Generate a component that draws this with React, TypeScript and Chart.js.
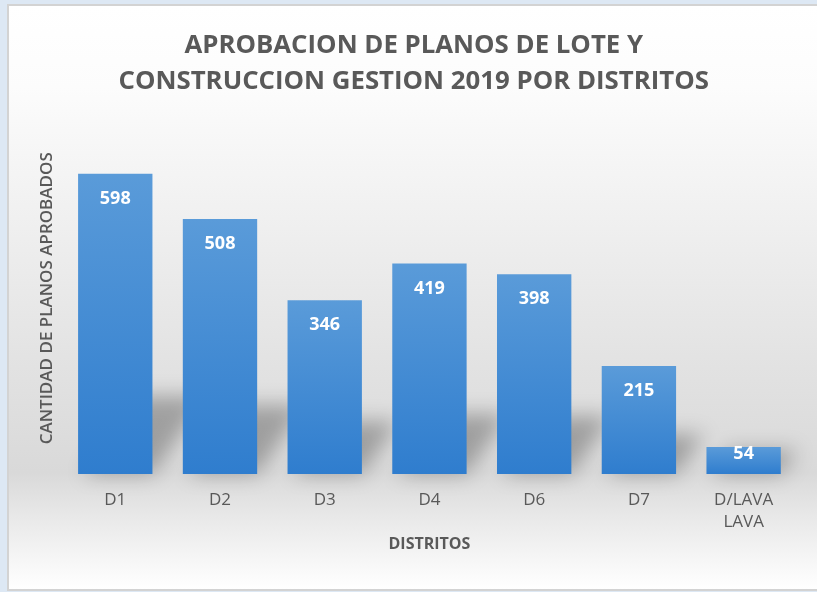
import React, { useEffect, useRef } from "react";
import { Chart, registerables } from "chart.js";

Chart.register(...registerables);

// ---- data ----
const categories: (string | string[])[] = ["D1", "D2", "D3", "D4", "D6", "D7", ["D/LAVA", "LAVA"]];
const values: number[] = [598, 508, 346, 419, 398, 215, 54];
const titleLines: string[] = ["APROBACION DE PLANOS DE LOTE Y", "CONSTRUCCION GESTION 2019 POR DISTRITOS"];
const yAxisTitle = "CANTIDAD DE PLANOS APROBADOS";
const xAxisTitle = "DISTRITOS";
const yMin = 0;
const yMax = 700;

const FONT = "'Open Sans', 'Noto Sans', sans-serif";
const TEXT_GRAY = "#595959";

const shadowPlugin = {
  id: "barShadow",
  beforeDatasetsDraw(chart: any) {
    const meta = chart.getDatasetMeta(0);
    const c = chart.ctx as CanvasRenderingContext2D;
    c.save();
    c.filter = "blur(10px)";
    c.fillStyle = "rgba(0,0,0,0.28)";
    meta.data.forEach((bar: any) => {
      const { x, y, base, width } = bar.getProps(["x", "y", "base", "width"], true);
      const h = base - y;
      const sh = Math.min(h, 18 + 0.2 * h);
      const dx = sh * 0.7;
      c.beginPath();
      c.moveTo(x - width / 2 + 6, base);
      c.lineTo(x + width / 2, base);
      c.lineTo(x + width / 2 + dx, base - sh);
      c.lineTo(x - width / 2 + dx + 6, base - sh);
      c.closePath();
      c.fill();
    });
    c.restore();
  },
};

const labelPlugin = {
  id: "barLabels",
  afterDatasetsDraw(chart: any) {
    const meta = chart.getDatasetMeta(0);
    const c = chart.ctx as CanvasRenderingContext2D;
    c.save();
    c.font = `bold 18px ${FONT}`;
    c.fillStyle = "#ffffff";
    c.textAlign = "center";
    c.textBaseline = "middle";
    meta.data.forEach((bar: any, i: number) => {
      const { x, y, base } = bar.getProps(["x", "y", "base"], true);
      const h = base - y;
      const ly = h < 50 ? y + 7 : y + 25;
      c.fillText(String(values[i]), x, ly);
    });
    c.restore();
  },
};

export default function App() {
  const ref = useRef<HTMLCanvasElement | null>(null);

  useEffect(() => {
    if (!ref.current) return;
    const chart = new Chart(ref.current, {
      type: "bar",
      data: {
        labels: categories as any,
        datasets: [
          {
            data: values,
            borderWidth: 0,
            categoryPercentage: 1,
            barPercentage: 0.71,
            backgroundColor: (ctx: any) => {
              const ch = ctx.chart;
              if (!ch.chartArea || ctx.type !== "data") return "#4a8fd6";
              const ys = ch.scales.y;
              const top = ys.getPixelForValue(ctx.raw);
              const bottom = ys.getPixelForValue(0);
              const g = ch.ctx.createLinearGradient(0, top, 0, bottom);
              g.addColorStop(0, "#5a9bd9");
              g.addColorStop(1, "#2f7dce");
              return g;
            },
          },
        ],
      },
      options: {
        responsive: false,
        animation: false,
        devicePixelRatio: 1,
        layout: { padding: { top: 0, left: 31.5, right: 21, bottom: 33.6 } },
        plugins: {
          legend: { display: false },
          tooltip: { enabled: false },
          title: {
            display: true,
            text: titleLines,
            color: TEXT_GRAY,
            font: { family: FONT, size: 25.8, weight: "bold", lineHeight: "36.5px" },
            padding: { top: 27, bottom: 22.5 },
          },
        },
        scales: {
          x: {
            grid: { display: false, drawTicks: false },
            border: { display: false },
            ticks: {
              color: TEXT_GRAY,
              font: { family: FONT, size: 17, lineHeight: 1.3 },
              padding: 15,
              maxRotation: 0,
              autoSkip: false,
            },
            title: {
              display: true,
              text: xAxisTitle,
              color: TEXT_GRAY,
              font: { family: FONT, size: 16, weight: "bold", lineHeight: 1.2 },
              padding: { top: -13, bottom: 4 },
            },
          },
          y: {
            min: yMin,
            max: yMax,
            grid: { display: false, drawTicks: false },
            border: { display: false },
            ticks: { display: false },
            title: {
              display: true,
              text: yAxisTitle,
              color: TEXT_GRAY,
              font: { family: FONT, size: 17, weight: "600", lineHeight: 1.2 },
              padding: { top: 5, bottom: 6 },
            },
          },
        },
      },
      plugins: [shadowPlugin, labelPlugin],
    });
    return () => chart.destroy();
  }, []);

  return (
    <div style={{ position: "fixed", left: 0, top: 0, width: 817, height: 592, background: "#dde8f4", overflow: "hidden" }}>
      <div
        style={{
          position: "absolute",
          left: 7,
          top: 4,
          width: 830,
          height: 587,
          boxSizing: "border-box",
          border: "2px solid #d3d3d3",
          background:
            "linear-gradient(to bottom, #ffffff 0%, #fcfcfc 14%, #eeeeee 40%, #e2e2e2 62%, #d9d9d9 80%, #e9e9e9 88%, #ffffff 100%)",
        }}
      />
      <canvas ref={ref} width={817} height={592} style={{ position: "absolute", left: 0, top: 0, display: "block" }} />
    </div>
  );
}
